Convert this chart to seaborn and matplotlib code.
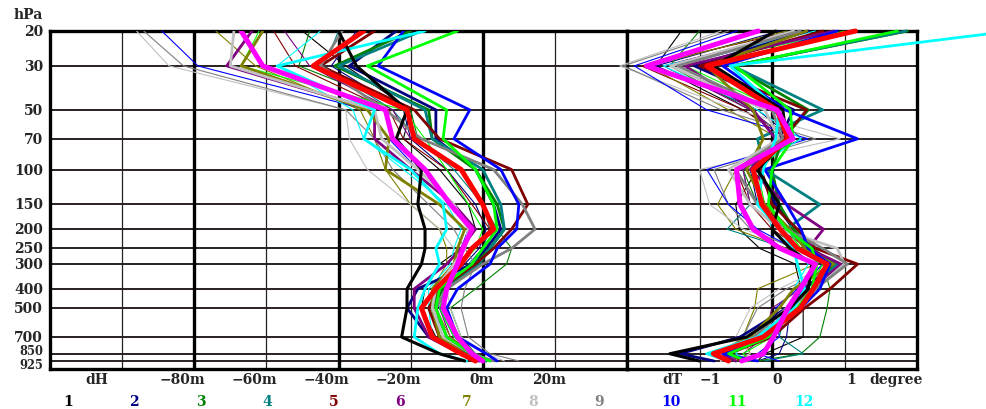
import numpy as np
import pandas as pd
import matplotlib
matplotlib.use('Agg')
import matplotlib.pyplot as plt
import matplotlib.transforms as mtrans
import seaborn as sns

# pressure levels (hPa)
levels = [20, 30, 50, 70, 100, 150, 200, 250, 300, 400, 500, 700, 850, 925]
level_labels = ['20', '30', '50', '70', '100', '150', '200', '250', '300', '400', '500', '700', '850', '925']

# month numbers shown in the legend row
months = ['1', '2', '3', '4', '5', '6', '7', '8', '9', '10', '11', '12']

# dH profiles (m), thin lines
dh_thin_black = [-50, -38, -20, -22, -12, -4, -2, -6, -12, -16, -17, -13, -5, -1]
dh_thin_navy = [-35, -42, -22, -20, -10, -2, 1, -1, -5, -13, -15, -12, -4, 1]
dh_thin_green = [-48, -51, -20, -18, -6, 0, 4, 8, 6.6, -2, -9, -6, -2, 2]
dh_thin_teal = [-40, -44, -25, -18, -8, 0, 2, 0, -4, -12, -14, -10, -4, 1]
dh_thin_maroon = [-58, -52, -26, -22, -10, -3, 2, -2, -8, -14, -14, -11, -4, 0]
dh_thin_purple = [-55, -48, -25, -20, -6, 0, 3, 1, -2, -10, -12, -9, -3, 2]
dh_thin_olive = [-74, -63, -34, -30, -27, -20, -12, -10, -10, -14, -13, -9, -2, 3]
dh_thin_silver = [-96, -87, -38, -37, -32, -20, -12, -8, -6, -10, -9, -6, 1, 6]
dh_thin_gray = [-94, -83, -38, -30, -25, -15, -8, -5, -2, -5, -6, -4, 2, 10]
dh_thin_blue = [-89, -79, -32, -26, -18, -8, -4, -6, -6, -14, -12, -8, -2, 3]
dh_thin_lime = [-62, -67, -22, -16, -10, -4, 0, -2, -6, -10, -12, -8, -2, 2]
dh_thin_cyan = [-45, -57, -36, -33, -22, -10, -6, -8, -9, -15, -15, -14, -6, -2]

# dH profiles (m), thick lines
dh_black = [-40, -35, -21, -24, -17, -18, -16, -16, -17, -21, -21, -22.5, -12, -5]
dh_navy = [-24, -37, -13, -13, -2, 3, 5, 1, -3, -18, -21, -15, -6, -1]
dh_green = [-20, -41, -15, -14, -2, 4, 6, 2, -2, -11, -14, -12, -5, 1]
dh_teal = [-17, -40, -16, -14, 0, 5, 6, 2, -1, -10, -13, -10, -4, 1]
dh_maroon = [-30, -45, -19, -12, 8, 12.5, 8, 3, -2, -12, -15, -12, -5, 0]
dh_purple = [-64, -71, -30, -30, -20, -8, -2, -6, -10, -19, -19, -15, -6, -1]
dh_olive = [-61, -67, -32, -26, -27, -12, -5, -7, -8, -14, -14, -12, -5, 0]
dh_silver = [-69, -70, -30, -28, -18, -8, -4, -5, -8, -13, -14, -11, -3, 2]
dh_gray = [-39, -45, -27, -17, 3, 11, 14.5, 8, 0, -10, -13, -10, -3, 3]
dh_blue = [-22, -29, -3.6, -8, 5, 10, 9.4, 4, 2, -7, -10, -7, 1, 4]
dh_lime = [-7, -32, -10, -11, -2, 3, 4, 0, -3, -12, -13, -10, -3, 2]
dh_cyan = [-16, -57, -30, -33, -20, -11, -10, -13, -12, -16, -18, -19, -12, -4.5]
dh_red = [-33, -47, -21, -19, -6, 0, 3, -3, -6, -13, -17, -14, -6, -2]
dh_magenta = [-67, -61, -27, -25, -16, -9, -3, -5.5, -7, -10, -11, -7, -3, 0]

# dT profiles (degree), thin lines
dt_thin_black = [-1.25, -1.6, -0.4, 0.3, -0.2, -0.5, -0.45, -0.17, 0.32, 0.4, 0.43, 0.43, -0.1, -0.2]
dt_thin_navy = [0.1, -1.6, -0.2, 0.3, -0.3, -0.2, 0.1, 0.35, 0.7, 0.4, 0.25, 0.2, 0.1, -0.2]
dt_thin_green = [-1.0, -1.41, -0.3, 0.2, -0.4, -0.2, 0.1, 0.4, 0.7, 0.8, 0.76, 0.66, 0.4, -0.2]
dt_thin_teal = [0.5, -1.3, 0.0, 0.4, -0.4, -0.3, -0.62, 0.2, 0.6, 0.4, 0.2, 0.1, 0.43, -0.1]
dt_thin_maroon = [0.3, -1.8, -0.4, 0.2, -0.5, -0.3, 0.0, 0.4, 0.8, 0.3, 0.1, -0.2, -0.6, -0.4]
dt_thin_purple = [0.4, -1.5, -0.3, 0.2, -0.4, -0.3, 0.1, 0.5, 0.9, 0.4, 0.0, -0.1, -0.4, -0.3]
dt_thin_olive = [0.2, -1.7, -0.6, 0.1, -0.5, -0.75, -0.5, 0.2, 0.6, -0.2, -0.24, -0.4, -0.3, -0.5]
dt_thin_silver = [-0.7, -2.1, -0.5, 0.94, -1.0, -0.86, -0.4, 0.4, 0.8, 0.1, -0.3, -0.5, -0.3, -0.6]
dt_thin_gray = [-0.6, -2.05, -0.7, 0.6, -0.8, -0.6, -0.3, 0.3, 0.9, 0.2, -0.2, -0.4, -0.7, -0.5]
dt_thin_blue = [-0.48, -1.9, -0.9, 0.5, -0.9, -0.6, -0.2, 0.3, 0.7, 0.35, 0.05, 0.1, -0.2, 0.1]
dt_thin_lime = [1.0, -1.2, 0.1, 0.3, -0.2, -0.1, 0.2, 0.4, 0.7, 0.5, 0.2, 0.0, -0.4, -0.3]
dt_thin_cyan = [0.6, -1.5, -0.2, 0.4, -0.3, -0.1, 0.0, 0.3, 0.5, 0.3, 0.1, -0.3, -0.5, -0.3]

# dT profiles (degree), thick lines
dt_black = [0.05, -0.8, 0.15, 0.2, -0.2, 0.1, 0.0, 0.25, 0.55, 0.5, 0.25, -0.35, -1.41, -1.0]
dt_navy = [0.5, -1.07, 0.3, 0.1, -0.2, 0.05, 0.3, 0.45, 0.85, 0.45, 0.2, -0.44, -1.27, -0.8]
dt_green = [1.87, -0.55, 0.5, 0.15, 0.0, 0.1, 0.3, 0.55, 0.85, 0.6, 0.35, -0.1, -0.7, -0.5]
dt_teal = [1.85, -0.54, 0.7, -0.2, -0.1, 0.66, 0.2, 0.5, 0.9, 0.55, 0.3, -0.2, -0.8, -0.6]
dt_maroon = [0.7, -1.0, 0.48, 0.15, -0.15, 0.0, 0.35, 0.6, 1.18, 0.8, 0.45, 0.0, -0.6, -0.4]
dt_purple = [0.85, -1.2, -0.26, 0.05, -0.3, 0.2, 0.71, 0.5, 0.95, 0.55, 0.3, -0.15, -0.7, -0.5]
dt_olive = [0.48, -0.9, -0.26, -0.12, -0.35, -0.1, 0.25, 0.45, 0.85, 0.3, 0.1, -0.3, -0.8, -0.6]
dt_silver = [0.3, -1.4, -0.1, 0.1, -0.6, -0.3, 0.1, 0.9, 1.0, 0.6, 0.3, -0.2, -0.7, -0.7]
dt_gray = [0.39, -1.3, 0.0, 0.15, -0.5, -0.2, 0.2, 0.7, 1.04, 0.6, 0.2, -0.25, -0.75, -0.6]
dt_blue = [0.9, -0.68, 0.18, 1.18, -0.1, 0.2, 0.4, 0.5, 0.8, 0.66, 0.4, -0.1, -0.68, -0.2]
dt_lime = [1.73, -0.51, 0.25, 0.29, 0.0, -0.05, 0.2, 0.55, 0.62, 0.55, 0.35, -0.05, -0.6, -0.35]
dt_cyan = [3.3, -0.58, 0.1, 0.05, -0.12, -0.2, 0.1, 0.3, 0.35, 0.45, 0.3, -0.2, -0.9, -0.6]
dt_red = [1.15, -0.9, 0.07, 0.22, -0.26, -0.14, 0.11, 0.35, 0.76, 0.57, 0.39, -0.12, -0.81, -0.6]
dt_magenta = [-0.19, -1.73, 0.07, 0.29, -0.49, -0.44, -0.26, 0.11, 0.6, 0.39, 0.22, 0.02, -0.12, -0.42]

# colours of months 1..12
month_colors = ['#000000', '#000080', '#008000', '#008080', '#800000', '#800080',
                '#808000', '#c0c0c0', '#808080', '#0000ff', '#00ff00', '#00ffff']

thin = [(dh_thin_black, dt_thin_black), (dh_thin_navy, dt_thin_navy), (dh_thin_green, dt_thin_green),
        (dh_thin_teal, dt_thin_teal), (dh_thin_maroon, dt_thin_maroon), (dh_thin_purple, dt_thin_purple),
        (dh_thin_olive, dt_thin_olive), (dh_thin_silver, dt_thin_silver), (dh_thin_gray, dt_thin_gray),
        (dh_thin_blue, dt_thin_blue), (dh_thin_lime, dt_thin_lime), (dh_thin_cyan, dt_thin_cyan)]
thick = [(dh_black, dt_black), (dh_navy, dt_navy), (dh_green, dt_green), (dh_teal, dt_teal),
         (dh_maroon, dt_maroon), (dh_purple, dt_purple), (dh_olive, dt_olive), (dh_silver, dt_silver),
         (dh_gray, dt_gray), (dh_blue, dt_blue), (dh_lime, dt_lime), (dh_cyan, dt_cyan)]

sns.set_style('white')
plt.rcParams['font.family'] = ['DejaVu Serif']
plt.rcParams['font.weight'] = 'bold'

W, H = 986, 410
fig = plt.figure(figsize=(W / 100, H / 100), dpi=100)
x0, x1, x2 = 50, 627, 917
ytop, ybot = 32, 370
ax1 = fig.add_axes([x0 / W, 1 - ybot / H, (x1 - x0) / W, (ybot - ytop) / H])
ax2 = fig.add_axes([x1 / W, 1 - ybot / H, (x2 - x1) / W, (ybot - ytop) / H])

gridc = '#2a2020'
for ax, xlim, thinv, thickv in [(ax1, (-120, 40), [-100, -60, -20, 20], [-80, -40, 0]),
                                (ax2, (-2, 2), [-1, 1], [0])]:
    ax.set_yscale('log')
    ax.set_ylim(1015, 20)
    ax.set_xlim(*xlim)
    for lv in levels:
        ax.axhline(lv, color=gridc, lw=1.4, zorder=1)
    for v in thinv:
        ax.axvline(v, color='#222222', lw=0.9, zorder=1)
    for v in thickv:
        ax.axvline(v, color='black', lw=2.4, zorder=1)
    ax.tick_params(left=False, bottom=False, labelleft=False, labelbottom=False, which='both')
    for s in ax.spines.values():
        s.set_linewidth(2.4)
        s.set_color('black')

def draw(dh, dt, color, lw):
    sns.lineplot(x=dh, y=levels, sort=False, estimator=None, color=color, lw=lw, ax=ax1, zorder=3)
    sns.lineplot(x=dt, y=levels, sort=False, estimator=None, color=color, lw=lw, ax=ax2, zorder=3,
                 clip_on=False)

for (dh, dt), c in zip(thin, month_colors):
    draw(dh, dt, c, 0.8)
for (dh, dt), c in zip(thick[1:], month_colors[1:]):
    draw(dh, dt, c, 2.0)
draw(dh_black, dt_black, '#000000', 2.2)
draw(dh_red, dt_red, '#ff0000', 3.6)
draw(dh_magenta, dt_magenta, '#ff00ff', 3.6)

for ax in (ax1, ax2):
    ax.set_xlabel('')
    ax.set_ylabel('')

fs = 10
# pressure labels (850 and 925 squeezed together as in the original)
tr = mtrans.blended_transform_factory(ax1.transAxes, ax1.transData)
for lv, lab in zip(levels, level_labels):
    size, dy = fs, 0
    if lab == '850':
        size, dy = 8.3, 3
    elif lab == '925':
        size, dy = 8.3, -3
    t = ax1.text(-7 / (x1 - x0), lv, lab, transform=tr, ha='right', va='center', fontsize=size)
    t.set_transform(tr + mtrans.ScaledTranslation(0, dy / 100, fig.dpi_scale_trans))
fig.text(28 / W, 1 - 15 / H, 'hPa', ha='center', va='center', fontsize=fs)

# x labels
ybl = -10 / (ybot - ytop)
tb1 = mtrans.blended_transform_factory(ax1.transData, ax1.transAxes)
ax1.text(-103.8, ybl, 'dH', transform=tb1, ha='right', va='center', fontsize=fs)
for v in [-80, -60, -40, -20, 0, 20]:
    ax1.text(v + 3, ybl, f'{v}m'.replace('-', '\u2212'), transform=tb1, ha='right', va='center', fontsize=fs)
tb2 = mtrans.blended_transform_factory(ax2.transData, ax2.transAxes)
ax2.text(-1.51, ybl, 'dT', transform=tb2, ha='left', va='center', fontsize=fs)
ax2.text(-1.0, ybl, '\u22121', transform=tb2, ha='left', va='center', fontsize=fs)
ax2.text(0.0, ybl, '0', transform=tb2, ha='left', va='center', fontsize=fs)
ax2.text(1.02, ybl, '1', transform=tb2, ha='left', va='center', fontsize=fs)
ax2.text(1.34, ybl, 'degree', transform=tb2, ha='left', va='center', fontsize=fs)

# month legend
for i, (m, c) in enumerate(zip(months, month_colors)):
    fig.text((63 + 66.45 * i) / W, 1 - 402 / H, m, color=c, ha='left', va='center', fontsize=fs)

fig.savefig('out.png', dpi=100)
